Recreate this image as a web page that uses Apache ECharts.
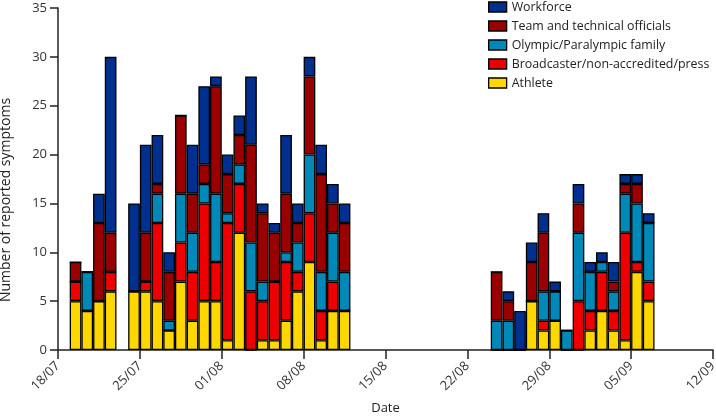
<!DOCTYPE html>
<html>
<head>
<meta charset="utf-8">
<script src="https://cdn.jsdelivr.net/npm/echarts@6/dist/echarts.min.js"></script>
<style>html,body{margin:0;padding:0;background:#fff}#c{width:716px;height:418px}</style>
</head>
<body>
<div id="c"></div>
<script>
// Day offsets counted from 18/07 (each bar fills its day)
var dayOffset = [1,2,3,4, 6,7,8,9,10,11,12,13,14,15,16,17,18,19,20,21,22,23,24, 37,38,39,40,41,42,43,44,45,46,47,48,49,50];
var tickLabels = ['18/07','25/07','01/08','08/08','15/08','22/08','29/08','05/09','12/09'];
var athlete     = [5,4,5,6, 6,6,5,2,7,3,5,5,1,12,0,1,1,3,6,9,1,4,4, 0,0,0,5,2,3,0,0,2,4,2,1,8,5];
var broadcaster = [2,0,0,2, 0,1,8,0,4,5,10,4,12,5,6,4,6,6,2,5,3,3,0, 0,0,0,0,1,0,0,5,2,4,2,11,1,2];
var olympic     = [0,4,0,0, 0,0,3,1,5,4,2,7,1,2,5,2,0,1,3,6,4,5,4, 3,3,0,0,3,3,2,7,4,1,2,4,6,6];
var team        = [2,0,8,4, 0,5,1,5,8,4,2,11,4,3,10,7,5,6,2,8,10,3,5, 5,2,0,4,6,0,0,3,0,0,1,1,2,0];
var workforce   = [0,0,3,18, 9,9,5,2,0,5,8,1,2,2,7,1,1,6,2,2,3,2,2, 0,1,4,2,2,1,0,2,1,1,2,1,1,1];

var seriesNames = ['Athlete','Broadcaster/non-accredited/press','Olympic/Paralympic family','Team and technical officials','Workforce'];
var seriesColors = ['#ffd700','#ee0000','#0088b8','#9b0000','#00308f'];
var seriesValues = [athlete, broadcaster, olympic, team, workforce];

var NDAYS = 56;
var dayCats = [];
for (var d = 0; d < NDAYS; d++) dayCats.push('d' + d);

var FONT = 'Open Sans, Noto Sans, sans-serif';
var chart = echarts.init(document.getElementById('c'));
var series = seriesValues.map(function (vals, i) {
  var full = [];
  for (var d = 0; d < NDAYS; d++) full.push('-');
  vals.forEach(function (v, j) { full[dayOffset[j]] = v; });
  return {
    name: seriesNames[i],
    type: 'bar',
    stack: 'total',
    xAxisIndex: 0,
    barWidth: '100%',
    itemStyle: {color: seriesColors[i], borderColor: '#000', borderWidth: 1.3},
    data: full
  };
});
chart.setOption({
  animation: false,
  grid: {left: 58, right: 3, top: 8, bottom: 68, outerBoundsMode: 'none', containLabel: false},
  legend: {
    orient: 'vertical', left: 488, top: -1, padding: 0,
    itemWidth: 18, itemHeight: 10, itemGap: 3, itemStyle: {borderWidth: 1.3, borderColor: '#000'},
    icon: 'rect',
    data: seriesNames.slice().reverse(),
    textStyle: {fontFamily: FONT, fontSize: 12.4, color: '#222', lineHeight: 16}
  },
  xAxis: [{
    type: 'category', data: dayCats, boundaryGap: true,
    show: false
  }, {
    type: 'value', min: 0, max: NDAYS, interval: 7, position: 'bottom',
    name: 'Date', nameLocation: 'middle', nameGap: 52,
    nameTextStyle: {fontFamily: FONT, fontSize: 13, color: '#222'},
    axisLine: {show: true, lineStyle: {color: '#222', width: 1.5}},
    axisTick: {show: true, length: 9, lineStyle: {color: '#222', width: 1.5}},
    axisLabel: {
      rotate: 45, fontFamily: FONT, fontSize: 13, color: '#333', margin: 14,
      formatter: function (v) { return tickLabels[Math.round(v / 7)]; }
    },
    splitLine: {show: false}
  }],
  yAxis: {
    type: 'value', min: 0, max: 35, interval: 5,
    name: 'Number of reported symptoms', nameLocation: 'middle', nameGap: 45,
    nameTextStyle: {fontFamily: FONT, fontSize: 14, color: '#222', padding: [0, 42, 0, 0]},
    axisLine: {show: true, lineStyle: {color: '#222', width: 1.5}},
    axisTick: {show: true, length: 8, lineStyle: {color: '#222', width: 1.5}},
    axisLabel: {fontFamily: FONT, fontSize: 13, color: '#333', margin: 11},
    splitLine: {show: false}
  },
  series: series
});
</script>
</body>
</html>
